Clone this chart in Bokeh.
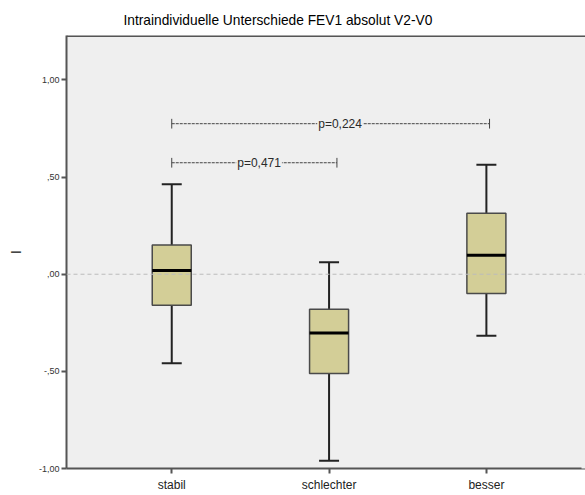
from bokeh.plotting import figure
from bokeh.models import (Range1d, FixedTicker, CustomJSTickFormatter, Span, ColumnDataSource,
                          LinearAxis)
from bokeh.core.properties import value
from bokeh.embed import file_html
from bokeh.resources import INLINE

# FEV1 absolute change V2-V0 per group: box-plot summary statistics
groups = ["stabil", "schlechter", "besser"]
whisker_low = [-0.458, -0.960, -0.317]
q1 = [-0.159, -0.511, -0.099]
median = [0.019, -0.303, 0.098]
q3 = [0.151, -0.180, 0.314]
whisker_high = [0.463, 0.062, 0.564]

# pairwise comparisons: (first group, second group, p label)
comparisons = [("stabil", "besser", "p=0,224"), ("stabil", "schlechter", "p=0,471")]

xs = [i + 1 for i in range(len(groups))]
pos = dict(zip(groups, xs))

BOX_W = 0.248
CAP_W = 0.127
FONT = "Liberation Sans"
PLOT_BG = "#EFEFEF"

p = figure(width=585, height=495, output_backend="svg", toolbar_location=None,
           x_range=Range1d(0.331, 3.63), y_range=Range1d(-1.0, 1.229),
           min_border_left=66, min_border_right=0, min_border_top=35, min_border_bottom=27,
           title="Intraindividuelle Unterschiede FEV1 absolut V2-V0")
p.background_fill_color = PLOT_BG
p.border_fill_color = "white"
p.outline_line_color = None
p.grid.visible = False

p.title.text_font = FONT
p.title.text_font_size = "13.75px"
p.title.text_font_style = "normal"
p.title.text_color = "#000000"
p.title.align = "left"
p.title.offset = 57
p.title.standoff = 16

# frame continues to the right edge of the canvas
p.add_layout(LinearAxis(ticker=FixedTicker(ticks=[]), axis_line_color=PLOT_BG,
                        axis_line_width=8, major_tick_out=0, major_tick_in=0,
                        minor_tick_out=0, minor_tick_in=0), "right")

# reference line at zero
p.add_layout(Span(location=0, dimension="width", line_color="#BBBBBB",
                  line_dash="4 3", line_width=1))
# top frame edge
p.add_layout(Span(location=1.229, dimension="width", line_color="#555555", line_width=3))

src = ColumnDataSource(dict(x=xs, lo=whisker_low, q1=q1, med=median, q3=q3, hi=whisker_high,
                            xl=[x - BOX_W / 2 for x in xs], xr=[x + BOX_W / 2 for x in xs],
                            cl=[x - CAP_W / 2 for x in xs], cr=[x + CAP_W / 2 for x in xs]))

# whiskers
p.segment(x0="x", y0="q3", x1="x", y1="hi", source=src, line_color="#222222", line_width=2)
p.segment(x0="x", y0="lo", x1="x", y1="q1", source=src, line_color="#222222", line_width=2)
p.segment(x0="cl", y0="hi", x1="cr", y1="hi", source=src, line_color="#222222", line_width=2)
p.segment(x0="cl", y0="lo", x1="cr", y1="lo", source=src, line_color="#222222", line_width=2)
# boxes
p.vbar(x="x", width=BOX_W, bottom="q1", top="q3", source=src,
       fill_color="#D3CE97", line_color="#4A4A4A", line_width=1.5)
# medians
p.segment(x0="xl", y0="med", x1="xr", y1="med", source=src, line_color="black", line_width=3)

# comparison brackets
bracket_y = [0.775, 0.574]
ends = [3.02, 2.05]
label_shift = [0.06, 0.03]
for (g1, g2, lab), yb, xe, dx in zip(comparisons, bracket_y, ends, label_shift):
    x0 = pos[g1]
    p.segment(x0=[x0, xe], y0=[yb - 0.025] * 2, x1=[x0, xe], y1=[yb + 0.025] * 2,
              line_color="#444444", line_width=1)
    p.segment(x0=[x0], y0=[yb], x1=[xe], y1=[yb], line_color="#444444",
              line_width=1, line_dash="3 1")
    p.text(x=[(x0 + xe) / 2 + dx], y=[yb], text=[lab], text_font=value(FONT),
           text_font_size="12px", text_color="#2A2A2A", text_align="center",
           text_baseline="middle", background_fill_color=PLOT_BG, padding=1)

# y axis
yax = p.yaxis[0]
yax.ticker = FixedTicker(ticks=[-1.0, -0.5, 0.0, 0.5, 1.0])
yax.formatter = CustomJSTickFormatter(code="""
    let s = Math.abs(tick).toFixed(2).replace('.', ',');
    if (s.startsWith('0')) s = s.slice(1);
    return (tick < 0 ? '-' : '') + s;
""")
yax.axis_label = "I"
yax.axis_label_text_font = FONT
yax.axis_label_text_font_style = "normal"
yax.axis_label_text_font_size = "14px"
yax.axis_label_text_color = "#111111"
yax.axis_label_standoff = 12
yax.major_label_text_font = FONT
yax.major_label_text_font_size = "9px"
yax.major_label_text_color = "#333333"
yax.major_label_standoff = 2
yax.minor_tick_line_color = None

# x axis
xax = p.xaxis[0]
xax.ticker = FixedTicker(ticks=xs)
xax.major_label_overrides = {x: g for x, g in zip(xs, groups)}
xax.major_label_text_font = FONT
xax.major_label_text_font_size = "12px"
xax.major_label_text_color = "#222222"
xax.major_label_standoff = 4
xax.minor_tick_line_color = None

for ax in (xax, yax):
    ax.axis_line_color = "#555555"
    ax.axis_line_width = 2
    ax.major_tick_line_color = "#555555"
    ax.major_tick_line_width = 2
    ax.major_tick_out = 5
    ax.major_tick_in = 0

open("out.html", "w").write(file_html(p, INLINE))
